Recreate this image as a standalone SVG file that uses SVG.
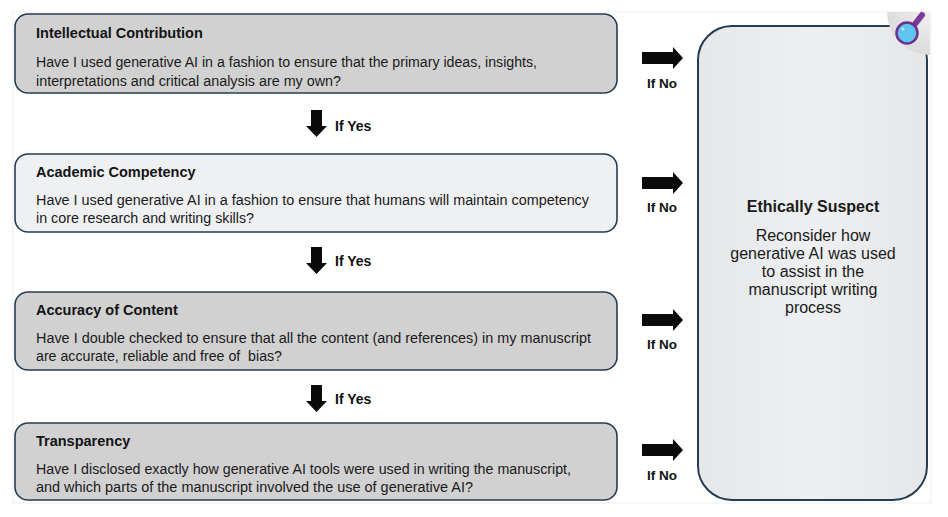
<svg xmlns="http://www.w3.org/2000/svg" width="948" height="517" viewBox="0 0 948 517">
<style>
.q{stroke:#263c52;stroke-width:1.6}
.g{fill:#d1d1d1}
.l{fill:#eef0f2}
.t{font-family:"Liberation Sans",Arial,sans-serif;font-weight:bold;font-size:14.5px;fill:#141414}
.b{font-family:"Liberation Sans",Arial,sans-serif;font-size:14px;fill:#1a1a1a;white-space:pre}
.a{fill:#0a0a0a}
.y{font-family:"Liberation Sans",Arial,sans-serif;font-weight:bold;font-size:14px;fill:#111}
.n{font-family:"Liberation Sans",Arial,sans-serif;font-weight:bold;font-size:13.5px;fill:#111;text-anchor:middle}
.r{font-family:"Liberation Sans",Arial,sans-serif;font-size:16px;fill:#1a1a1a;text-anchor:middle}
</style>
<defs>
<linearGradient id="rg" x1="0" y1="0" x2="1" y2="0">
<stop offset="0" stop-color="#e6e7e8"/><stop offset="0.5" stop-color="#eeeff0"/><stop offset="1" stop-color="#e6e7e8"/>
</linearGradient>
<radialGradient id="ig" cx="1" cy="0" r="1">
<stop offset="0" stop-color="#f0f0f0"/><stop offset="1" stop-color="#dcdcdc"/>
</radialGradient>
</defs>
<rect width="948" height="517" fill="#ffffff"/>
<rect x="13" y="12" width="918" height="491" fill="none" stroke="#efefef" stroke-width="1"/>

<g id="node-intellectual">
<rect class="q g" x="15" y="14" width="602" height="79" rx="13"/>
<text class="t" x="36" y="38">Intellectual Contribution</text>
<text class="b" x="36" y="67" textLength="501" lengthAdjust="spacingAndGlyphs">Have I used generative AI in a fashion to ensure that the primary ideas, insights,</text>
<text class="b" x="36" y="86" textLength="305" lengthAdjust="spacingAndGlyphs">interpretations and critical analysis are my own?</text>
</g>

<g id="node-academic">
<rect class="q l" x="15" y="154" width="602" height="78" rx="13"/>
<text class="t" x="36" y="177">Academic Competency</text>
<text class="b" x="36" y="205" textLength="553" lengthAdjust="spacingAndGlyphs">Have I used generative AI in a fashion to ensure that humans will maintain competency</text>
<text class="b" x="36" y="223" textLength="218" lengthAdjust="spacingAndGlyphs">in core research and writing skills?</text>
</g>

<g id="node-accuracy">
<rect class="q g" x="15" y="292" width="602" height="78" rx="13"/>
<text class="t" x="36" y="315">Accuracy of Content</text>
<text class="b" x="36" y="343" textLength="555" lengthAdjust="spacingAndGlyphs">Have I double checked to ensure that all the content (and references) in my manuscript</text>
<text class="b" x="36" y="361" textLength="246" lengthAdjust="spacingAndGlyphs">are accurate, reliable and free of  bias?</text>
</g>

<g id="node-transparency">
<rect class="q g" x="15" y="423" width="602" height="77" rx="13"/>
<text class="t" x="36" y="446">Transparency</text>
<text class="b" x="36" y="474" textLength="535" lengthAdjust="spacingAndGlyphs">Have I disclosed exactly how generative AI tools were used in writing the manuscript,</text>
<text class="b" x="36" y="492" textLength="437" lengthAdjust="spacingAndGlyphs">and which parts of the manuscript involved the use of generative AI?</text>
</g>

<g id="node-suspect">
<rect x="698" y="26" width="229" height="474" rx="34" fill="url(#rg)" stroke="#263c52" stroke-width="2"/>
<text class="r" x="813" y="212" font-weight="bold">Ethically Suspect</text>
<text class="r" x="813" y="241">Reconsider how</text>
<text class="r" x="813" y="259">generative AI was used</text>
<text class="r" x="813" y="277">to assist in the</text>
<text class="r" x="813" y="295">manuscript writing</text>
<text class="r" x="813" y="313">process</text>
</g>

<g id="icon">
<path d="M887 12 H930 V55 A43 43 0 0 1 887 12 Z" fill="url(#ig)"/>
<line x1="915" y1="24" x2="922" y2="15" stroke="#7b3c98" stroke-width="6" stroke-linecap="round"/>
<circle cx="907" cy="33" r="10.5" fill="#5ec6ee" stroke="#6e2f90" stroke-width="2.5"/>
<circle cx="903" cy="29" r="1.6" fill="#bfeafb"/>
</g>

<g id="connectors">
<path class="a" d="M311 110 H322 V126 H327 L316.5 137 L306 126 H311 Z"/>
<text class="y" x="335" y="131">If Yes</text>
<path class="a" d="M311 247 H322 V263 H327 L316.5 274 L306 263 H311 Z"/>
<text class="y" x="335" y="266">If Yes</text>
<path class="a" d="M311 385 H322 V401 H327 L316.5 412 L306 401 H311 Z"/>
<text class="y" x="335" y="404">If Yes</text>

<path class="a" d="M642 52 H673 V47 L683 58 L673 69 V64 H642 Z"/>
<text class="n" x="662" y="88">If No</text>
<path class="a" d="M642 177 H673 V172 L683 183 L673 194 V189 H642 Z"/>
<text class="n" x="662" y="212">If No</text>
<path class="a" d="M642 314 H673 V309 L683 320 L673 331 V326 H642 Z"/>
<text class="n" x="662" y="349">If No</text>
<path class="a" d="M642 444 H673 V439 L683 450 L673 461 V456 H642 Z"/>
<text class="n" x="662" y="480">If No</text>
</g>
</svg>
